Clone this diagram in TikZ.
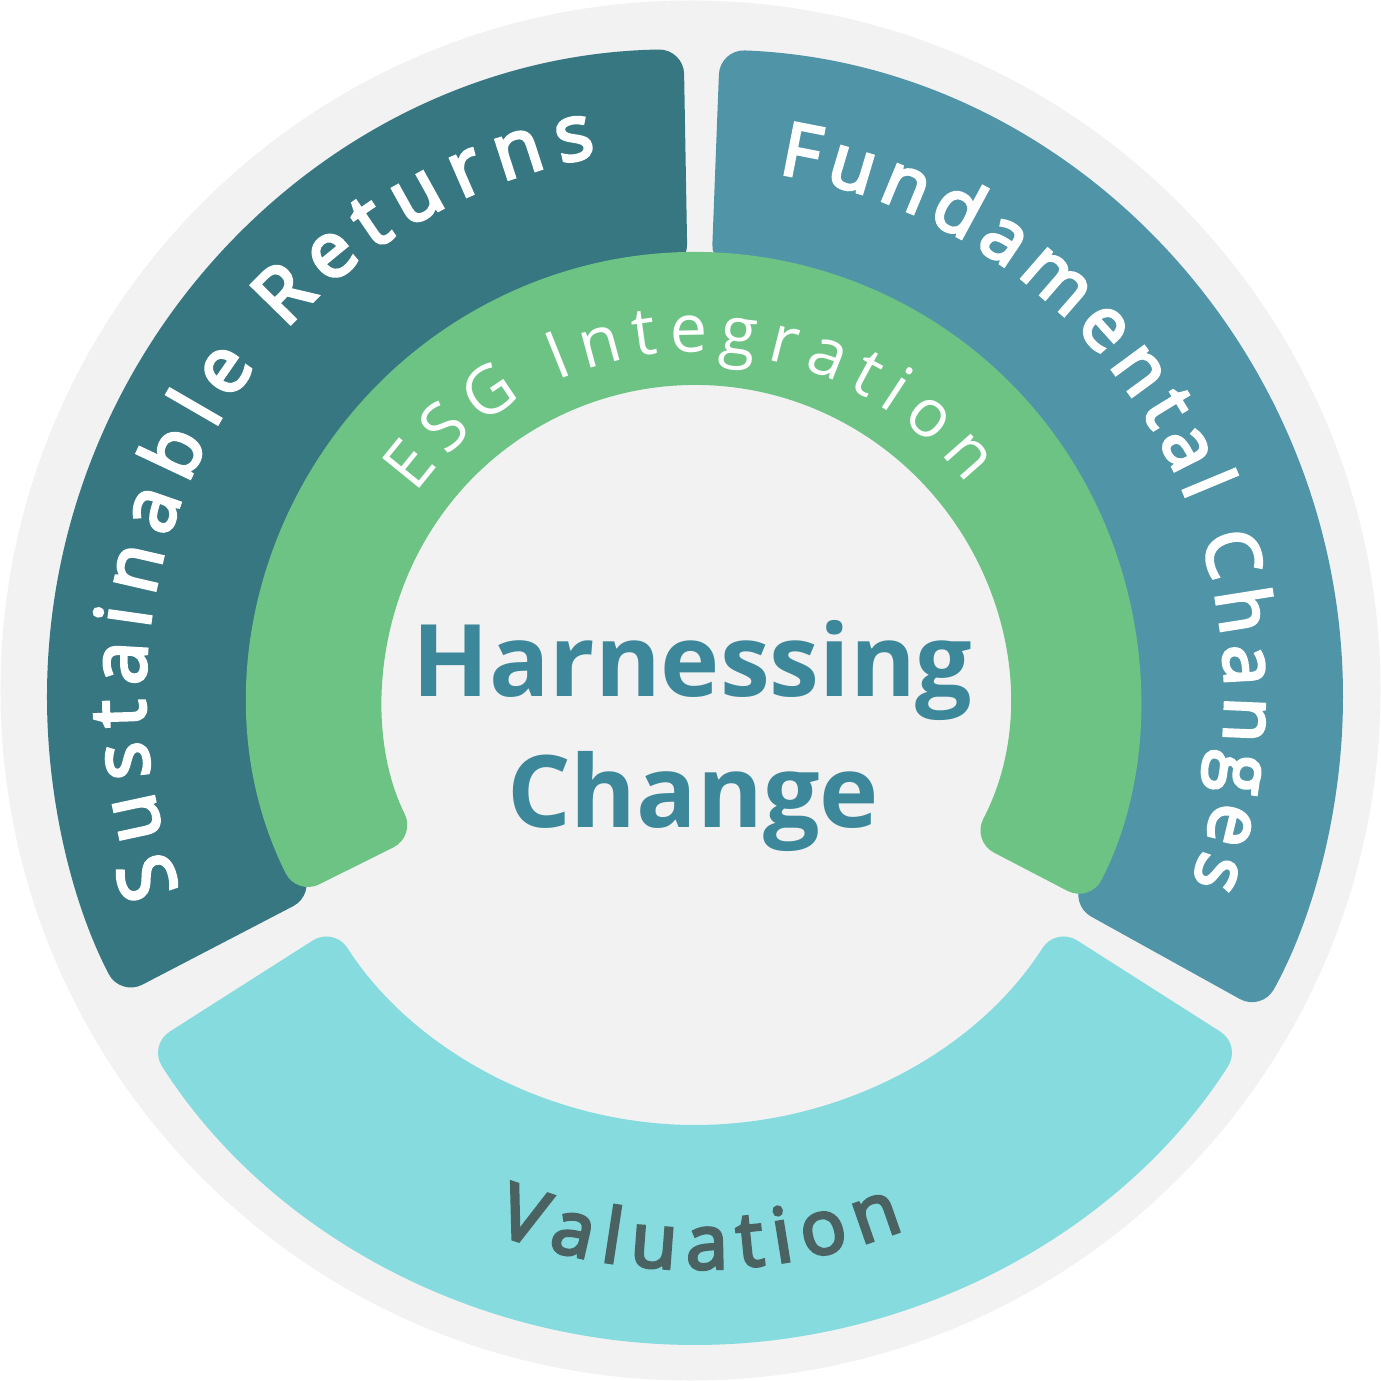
\documentclass[tikz,border=0pt]{standalone}
\usepackage{fontspec}
\setmainfont{Open Sans}
\newfontfamily\labelfont{Open Sans}[FakeBold=4]
\usetikzlibrary{decorations.text}

\definecolor{bgray}{HTML}{F2F2F2}
\definecolor{deepteal}{HTML}{377782}
\definecolor{midteal}{HTML}{5095A7}
\definecolor{esggreen}{HTML}{6CC384}
\definecolor{aqua}{HTML}{86DBDE}
\definecolor{titleteal}{HTML}{3C889A}
\definecolor{slate}{HTML}{4A6262}

\begin{document}
\begin{tikzpicture}[band/.style={rounded corners=0.25cm},
                    title/.style={text=titleteal,inner sep=0pt,anchor=base,
                      font=\bfseries\fontsize{28.5}{34}\selectfont},
                    curved/.style={decorate,decoration={text along path,
                      text align={fit to path},text={#1}}}]

  \useasboundingbox (-6.905,-6.905) rectangle (6.905,6.905);
  \fill[bgray] (0,0) circle (6.9);

  \begin{scope}[shift={(0.045,-0.065)}]
    % outer segments
    \fill[deepteal,band] (91:6.48) arc[start angle=91,end angle=207.5,radius=6.48]
      -- (207.5:4.28) arc[start angle=207.5,end angle=91,radius=4.28] -- cycle;
    \fill[midteal,band] (87.8:6.48) arc[start angle=87.8,end angle=-29,radius=6.48]
      -- (-29:4.28) arc[start angle=-29,end angle=87.8,radius=4.28] -- cycle;
    \fill[aqua,band] (212.5:6.48) arc[start angle=212.5,end angle=327.5,radius=6.48]
      -- (327.5:4.28) arc[start angle=327.5,end angle=212.5,radius=4.28] -- cycle;

    % inner green band
    \fill[esggreen,band] (206.5:4.45) arc[start angle=206.5,end angle=-27.5,radius=4.45]
      -- (-27.5:3.12) arc[start angle=-27.5,end angle=206.5,radius=3.12] -- cycle;

    % labels on the rings
    \path[curved={|\labelfont\color{white}\fontsize{22}{22}\selectfont|Sustainable Returns}]
      (200.5:5.5) arc[start angle=200.5,end angle=100.3,radius=5.5];
    \path[curved={|\labelfont\color{white}\fontsize{21}{21}\selectfont|Fundamental Changes}]
      (81:5.3) arc[start angle=81,end angle=-20.5,radius=5.3];
    \path[curved={|\color{white}\fontsize{19}{19}\selectfont|ESG Integration}]
      (144:3.45) arc[start angle=144,end angle=38,radius=3.45];
    \path[curved={|\labelfont\color{slate}\fontsize{21.5}{21.5}\selectfont|Valuation}]
      (249.5:5.72) arc[start angle=249.5,end angle=291.5,radius=5.72];
  \end{scope}

  \node[title] (harness) at (0.02,-0.065) {Harnessing};
  \node[title] (change) at (0.025,-1.375) {Change};
\end{tikzpicture}
\end{document}
